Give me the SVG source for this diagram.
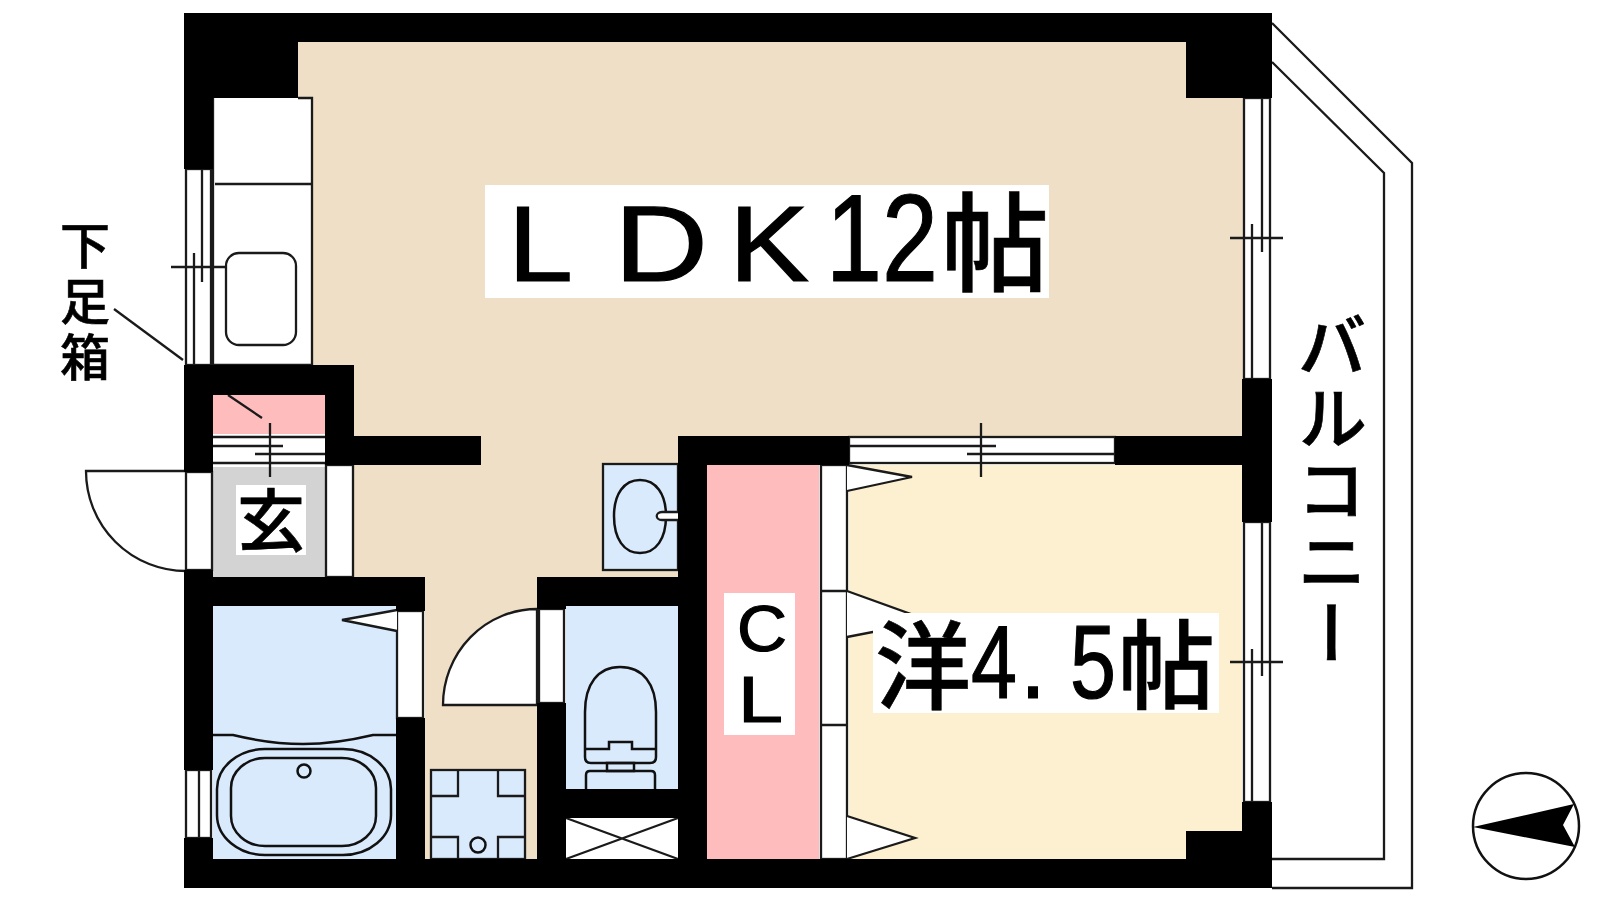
<svg xmlns="http://www.w3.org/2000/svg" width="1600" height="900" viewBox="0 0 1600 900">
<style>
.ln{fill:none;stroke:#1a1a1a;stroke-width:2.3}
.wf{fill:#fff;stroke:#1a1a1a;stroke-width:2.3}
.bf{fill:#daeafd;stroke:#1a1a1a;stroke-width:2.3}
.th{fill:none;stroke:#111;stroke-width:2.5}
.wall{fill:#000}
.lat{font-family:"Liberation Sans",Arial,sans-serif;fill:#000;stroke:#000;stroke-width:1.2}
.cjk{font-family:"Noto Sans CJK JP","Noto Sans",sans-serif;fill:#000;stroke:#000;stroke-width:.6;font-weight:500}
</style>
<rect width="1600" height="900" fill="#fff"/>
<g id="rooms">
<path id="ldk-floor" fill="#eedfc6" d="M298 42H1244V436H678V577H537V859H425V577H354V436H298Z"/>
<rect id="western-floor" x="849" y="465" width="393" height="394" fill="#fdf0d0"/>
<rect id="closet-floor" x="707" y="465" width="112" height="394" fill="#ffbcbc"/>
<rect id="entry-floor" x="213" y="467" width="112" height="110" fill="#d3d3d3"/>
<rect id="shoe-floor" x="213" y="395" width="112" height="39" fill="#ffbcbc"/>
<rect id="bath-floor" x="213" y="606" width="183" height="253" fill="#daeafd"/>
<rect id="wc-floor" x="566" y="606" width="112" height="183" fill="#daeafd"/>
<rect id="pipe-space" x="566" y="818" width="112" height="41" fill="#fff"/>
</g>
<g id="kitchen">
<path class="wf" d="M298 98H312V365H213V98"/>
<path class="ln" d="M215 184H312"/>
<rect class="wf" x="226" y="253" width="70" height="92" rx="13"/>
</g>
<g id="kitchen-window">
<rect class="wf" x="186" y="169" width="25" height="196"/>
<path class="ln" d="M202 169V282M194 253V365M171 267H226"/>
<path class="ln" d="M114 309L183 360"/>
</g>
<g id="entry-steps">
<rect x="213" y="434" width="112" height="31" fill="#fff"/>
<path class="ln" d="M213 437H325M213 446H283M255 454H325M213 463H325M270 423V477M228 395L262 418"/>
</g>
<g id="entry-door">
<path class="wf" d="M186 471H86A100 100 0 0 0 186 571"/>
<rect class="wf" x="186" y="472" width="26" height="98"/>
</g>
<g id="entry-inner-door">
<rect class="wf" x="326" y="465" width="27" height="112"/>
</g>
<g id="bath-fittings">
<rect class="wf" x="397" y="611" width="26" height="107"/>
<path class="wf" d="M397 610L342 620L397 631"/>
<path class="th" d="M213 735H233C258 741 280 744 303 744C326 744 348 741 373 735H396"/>
<rect class="th" x="217" y="749" width="174" height="106" rx="48" ry="40"/>
<rect class="th" x="231" y="758" width="145" height="88" rx="34" ry="30"/>
<circle class="th" cx="304" cy="771" r="6.5"/>
<rect class="wf" x="186" y="770" width="25" height="68"/>
<path class="ln" d="M199 770V838"/>
</g>
<g id="washer-pan">
<rect class="bf" x="431" y="770" width="94" height="89"/>
<path class="ln" d="M458 770V796H431M498 770V796H525M431 837H458V859M525 837H498V859"/>
<circle class="th" cx="478" cy="845" r="7.5"/>
</g>
<g id="wc-door">
<path class="wf" d="M537 609A94 96 0 0 0 443 705H537Z"/>
<rect class="wf" x="539" y="609" width="25" height="94"/>
</g>
<g id="vanity">
<rect class="bf" x="603" y="464" width="75" height="106"/>
<path class="th" d="M640 480C656 480 666 494 666 516C666 539 656 553 640 553C624 553 614 539 614 516C614 494 624 480 640 480Z"/>
<path class="wf" d="M678 512H662C655 512 655 520 662 520H678"/>
</g>
<g id="toilet">
<path class="th" d="M585 749V712C585 684 598 667 620 667C643 667 656 684 656 712V757Q656 763 650 763H591Q585 763 585 757Z"/>
<path class="th" d="M585 749H609V742H632V749H656"/>
<rect class="th" x="607" y="763" width="27" height="8"/>
<path class="th" d="M586 789V775Q586 771 590 771H651Q655 771 655 775V789"/>
</g>
<g id="pipe-cross">
<path class="ln" d="M566 818L678 859M678 818L566 859"/>
</g>
<g id="closet-doors">
<rect class="wf" x="821" y="465" width="26" height="394"/>
<path class="ln" d="M821 591H847M821 725H847"/>
<path class="wf" d="M847 465L912 477L847 491"/>
<path class="wf" d="M847 591L930 621L847 637"/>
<path class="wf" d="M847 816L915 838L847 859"/>
</g>
<g id="south-window">
<rect class="wf" x="849" y="437" width="266" height="26"/>
<path class="ln" d="M849 446H996M967 454H1115M981 423V477"/>
</g>
<g id="east-window-upper">
<rect class="wf" x="1244" y="98" width="26" height="281"/>
<path class="ln" d="M1262 98V252M1252 224V379M1230 238H1283"/>
</g>
<g id="east-window-lower">
<rect class="wf" x="1244" y="522" width="26" height="280"/>
<path class="ln" d="M1262 522V676M1252 649V802M1230 662H1283"/>
</g>
<g id="balcony">
<path class="ln" d="M1272 23L1412 163V888H1272M1272 62L1384 173V859H1272"/>
</g>
<path id="walls" class="wall" d="M184 13H1272V42H184ZM184 13H298V98H184ZM184 98H213V169H184ZM1186 13H1272V98H1186ZM184 365H354V395H184ZM184 395H213V472H184ZM325 395H354V465H325ZM354 436H481V465H354ZM184 570H213V770H184ZM213 577H425V606H213ZM396 606H425V611H396ZM396 718H425V859H396ZM184 838H213V859H184ZM184 859H1272V888H184ZM537 577H678V606H537ZM537 606H566V609H537ZM537 703H566V859H537ZM566 789H678V818H566ZM678 436H849V465H678ZM678 465H707V859H678ZM1115 436H1242V465H1115ZM1242 379H1272V522H1242ZM1242 802H1272V859H1242ZM1186 831H1242V859H1186Z"/>
<g id="label-ldk">
<rect x="485" y="185" width="564" height="113" fill="#fff"/>
<text class="lat" font-size="107"><tspan x="508" y="281" textLength="65" lengthAdjust="spacingAndGlyphs">L</tspan><tspan x="614" y="281" textLength="94" lengthAdjust="spacingAndGlyphs">D</tspan><tspan x="729" y="281" textLength="80" lengthAdjust="spacingAndGlyphs">K</tspan><tspan x="826" y="281" font-size="124" textLength="112" lengthAdjust="spacingAndGlyphs">12</tspan><tspan class="cjk" x="941" y="283" font-size="108" textLength="108" lengthAdjust="spacingAndGlyphs">帖</tspan></text>
</g>
<g id="label-western">
<rect x="873" y="613" width="346" height="100" fill="#fff"/>
<text class="lat" font-size="104"><tspan class="cjk" x="875" y="701" font-size="96">洋</tspan><tspan x="971" y="698" textLength="46" lengthAdjust="spacingAndGlyphs">4</tspan><tspan x="1020" y="698" textLength="26" lengthAdjust="spacingAndGlyphs">.</tspan><tspan x="1070" y="698" textLength="46" lengthAdjust="spacingAndGlyphs">5</tspan><tspan class="cjk" x="1118" y="701" font-size="97">帖</tspan></text>
</g>
<g id="label-cl">
<rect x="724" y="593" width="71" height="142" fill="#fff"/>
<text class="lat" font-size="65"><tspan x="737" y="651" textLength="50" lengthAdjust="spacingAndGlyphs">C</tspan><tspan x="738" y="722" textLength="45" lengthAdjust="spacingAndGlyphs">L</tspan></text>
</g>
<g id="label-entry">
<rect x="236" y="485" width="70" height="70" fill="#fff"/>
<text class="cjk" font-size="68" text-anchor="middle" x="271" y="546">玄</text>
</g>
<g id="label-shoe">
<text class="cjk" font-size="50" text-anchor="middle" x="85 85 85" y="264 320 376">下足箱</text>
</g>
<g id="label-balcony">
<text class="cjk" font-size="70" letter-spacing="2" x="1332" y="310" style="writing-mode:vertical-rl">バルコニー</text>
</g>
<g id="compass">
<circle cx="1526" cy="826" r="53" fill="#fff" stroke="#111" stroke-width="2.5"/>
<path fill="#000" d="M1473 827L1574 804L1563 825L1575 847Z"/>
</g>
</svg>
